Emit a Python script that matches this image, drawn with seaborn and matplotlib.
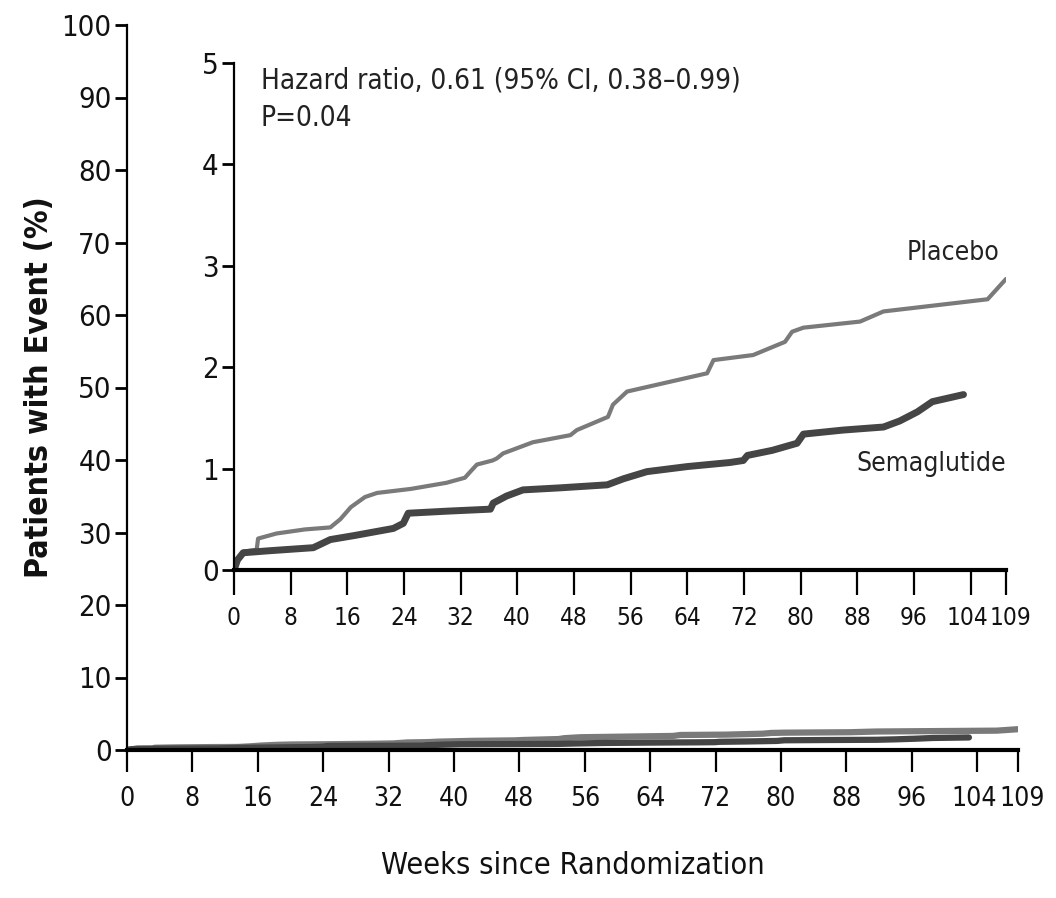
import matplotlib
matplotlib.use("Agg")
import matplotlib.pyplot as plt
import matplotlib.transforms as mtransforms
from matplotlib import font_manager
import seaborn as sns
import pandas as pd

# ---- data ----
placebo_weeks = [0, 0.5, 1.3, 3.2, 3.4, 6, 10, 13.6, 15, 16.5, 18.5, 20.2, 25, 30,
                 32.6, 33.5, 34.3, 36.5, 37.1, 38, 42.2, 47.5, 48.4, 52.8, 53.5, 55.5,
                 66.8, 67.7, 73.3, 77.8, 78.8, 80.4, 88.4, 91.7, 106.4, 109]
placebo_pct = [0, 0.10, 0.18, 0.20, 0.31, 0.36, 0.40, 0.42, 0.50, 0.62, 0.72, 0.76, 0.80, 0.86,
               0.91, 0.98, 1.04, 1.08, 1.10, 1.15, 1.26, 1.33, 1.38, 1.51, 1.63, 1.76,
               1.94, 2.07, 2.12, 2.25, 2.35, 2.39, 2.45, 2.55, 2.67, 2.87]
sema_weeks = [0, 0.5, 1.3, 5, 11.2, 13.6, 17, 22.5, 23.9, 24.6, 30, 36.2, 36.6, 38.5,
              40.8, 46, 52.7, 55, 58.3, 64, 70, 71.9, 72.5, 76, 79.5, 80.4, 86, 91.7,
              94, 96.5, 98.6, 103]
sema_pct = [0, 0.10, 0.17, 0.19, 0.22, 0.30, 0.34, 0.41, 0.46, 0.56, 0.58, 0.60, 0.66, 0.73,
            0.79, 0.81, 0.84, 0.90, 0.97, 1.02, 1.06, 1.08, 1.13, 1.18, 1.25, 1.34, 1.38, 1.41,
            1.47, 1.56, 1.66, 1.73]
x_ticks = [0, 8, 16, 24, 32, 40, 48, 56, 64, 72, 80, 88, 96, 104, 109]
main_y_ticks = [0, 10, 20, 30, 40, 50, 60, 70, 80, 90, 100]
inset_y_ticks = [0, 1, 2, 3, 4, 5]
hr_text = "Hazard ratio, 0.61 (95% CI, 0.38\u20130.99)\nP=0.04"

sns.set_theme(style="white")
names = {f.name for f in font_manager.fontManager.ttflist}
narrow = "Liberation Sans Narrow" if "Liberation Sans Narrow" in names else "DejaVu Sans"
plt.rcParams["font.family"] = [narrow, "DejaVu Sans"]
plt.rcParams["font.stretch"] = "condensed"

df = pd.concat([
    pd.DataFrame({"week": placebo_weeks, "pct": placebo_pct, "group": "Placebo"}),
    pd.DataFrame({"week": sema_weeks, "pct": sema_pct, "group": "Semaglutide"}),
], ignore_index=True)
palette = {"Placebo": "#7a7a7a", "Semaglutide": "#454545"}

W, H = 1056, 898
fig = plt.figure(figsize=(W / 100, H / 100), dpi=100)
fig.patch.set_facecolor("white")

def px_axes(x0, y0, x1, y1):
    return fig.add_axes([x0 / W, 1 - y1 / H, (x1 - x0) / W, (y1 - y0) / H])

def nudge_last_labels(a, dx_104, dx_109):
    labels = a.get_xticklabels()
    for lab, dx in ((labels[-2], dx_104), (labels[-1], dx_109)):
        off = mtransforms.ScaledTranslation(dx / 100, 0, fig.dpi_scale_trans)
        lab.set_transform(lab.get_transform() + off)

# ---- main axes ----
ax = px_axes(127, 25, 1018, 750)
sns.lineplot(data=df, x="week", y="pct", hue="group", palette=palette, ax=ax,
             estimator=None, sort=False, legend=False, linewidth=4.5)
ax.set_xlim(0, 109)
ax.set_ylim(0, 100)
ax.set_xticks(x_ticks)
ax.set_yticks(main_y_ticks)
ax.set_xticklabels([str(t) for t in x_ticks])
ax.set_yticklabels([str(t) for t in main_y_ticks])
for s in ["top", "right"]:
    ax.spines[s].set_visible(False)
ax.spines["left"].set_color("black")
ax.spines["left"].set_linewidth(1.6)
ax.spines["bottom"].set_color("black")
ax.spines["bottom"].set_linewidth(3)
ax.tick_params(axis="y", direction="out", length=9, width=2, color="black",
               labelsize=21, pad=2, left=True, labelcolor="#111111")
ax.tick_params(axis="x", direction="out", length=16, width=1.6, color="black",
               labelsize=19, pad=10, bottom=True, labelcolor="#111111")
ax.set_xlabel("Weeks since Randomization", fontsize=22, labelpad=28, color="#111111")
ax.set_ylabel("Patients with Event (%)", fontsize=23, fontweight="bold",
              family="DejaVu Sans", labelpad=5, color="#111111")
ax.patch.set_alpha(0)
nudge_last_labels(ax, -3, 4)

# ---- inset axes ----
ins = px_axes(234, 63, 1006, 570)
sns.lineplot(data=df, x="week", y="pct", hue="group", palette=palette, ax=ins,
             estimator=None, sort=False, legend=False, linewidth=3)
ins.lines[1].set_linewidth(5)
ins.set_xlim(0, 109)
ins.set_ylim(0, 5)
ins.set_xticks(x_ticks)
ins.set_yticks(inset_y_ticks)
ins.set_xticklabels([str(t) for t in x_ticks])
ins.set_yticklabels([str(t) for t in inset_y_ticks])
for s in ["top", "right"]:
    ins.spines[s].set_visible(False)
ins.spines["left"].set_color("black")
ins.spines["left"].set_linewidth(1.6)
ins.spines["bottom"].set_color("black")
ins.spines["bottom"].set_linewidth(3)
ins.tick_params(axis="y", direction="out", length=9, width=2, color="black",
                labelsize=21, pad=2, left=True, labelcolor="#111111")
ins.tick_params(axis="x", direction="out", length=18, width=1.6, color="black",
                labelsize=17.5, pad=8, bottom=True, labelcolor="#111111")
ins.set_xlabel("")
ins.set_ylabel("")
ins.patch.set_alpha(0)
nudge_last_labels(ins, -3, 4)

ins.text(3.8, 4.97, hr_text, fontsize=20, va="top", ha="left", color="#222222",
         linespacing=1.45)
ins.text(108, 3.0, "Placebo", fontsize=19, ha="right", va="bottom", color="#222222")
ins.text(109, 0.92, "Semaglutide", fontsize=19, ha="right", va="bottom", color="#222222")

fig.savefig("out.png", dpi=100, facecolor="white")
